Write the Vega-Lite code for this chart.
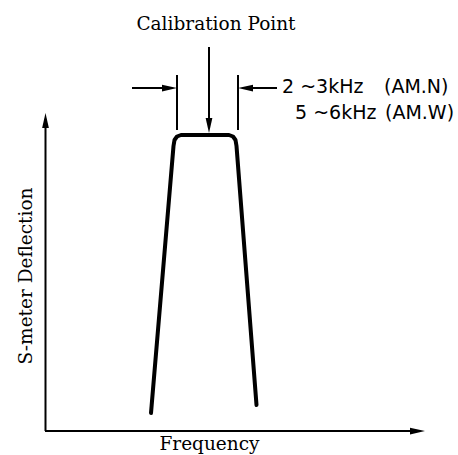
{
  "$schema": "https://vega.github.io/schema/vega-lite/v6.json",
  "width": 458,
  "height": 455,
  "autosize": "none",
  "padding": 0,
  "background": "white",
  "config": {"view": {"stroke": null}},
  "datasets": {
    "curve": [
      {"x": 151, "y": 413},
      {"x": 173.5, "y": 146},
      {"x": 174.5, "y": 140},
      {"x": 177, "y": 136.5},
      {"x": 181, "y": 135},
      {"x": 229, "y": 135},
      {"x": 233, "y": 136.5},
      {"x": 235.5, "y": 140},
      {"x": 236.5, "y": 146},
      {"x": 256.5, "y": 405}
    ],
    "rules": [
      {"name": "y axis", "x1": 45.5, "y1": 431, "x2": 45.5, "y2": 126},
      {"name": "x axis", "x1": 45, "y1": 431, "x2": 412, "y2": 431},
      {"name": "left marker", "x1": 177, "y1": 75, "x2": 177, "y2": 130},
      {"name": "right marker", "x1": 238, "y1": 75, "x2": 238, "y2": 130},
      {"name": "left arrow", "x1": 132, "y1": 88, "x2": 166, "y2": 88},
      {"name": "right arrow", "x1": 249, "y1": 88, "x2": 277, "y2": 88},
      {"name": "calibration arrow", "x1": 209, "y1": 47, "x2": 209, "y2": 120}
    ],
    "heads": [
      {"dir": "up", "x": 45.5, "y": 120.5},
      {"dir": "right", "x": 417.5, "y": 431},
      {"dir": "right", "x": 169.5, "y": 88},
      {"dir": "left", "x": 245.5, "y": 88},
      {"dir": "down", "x": 209, "y": 125.5}
    ],
    "serifText": [
      {"label": "Calibration Point", "x": 216, "y": 30},
      {"label": "Frequency", "x": 209.5, "y": 450}
    ],
    "rotText": [
      {"label": "S-meter Deflection", "x": 32, "y": 276}
    ],
    "sansText": [
      {"label": "2 ~3kHz", "x": 282, "y": 93},
      {"label": "(AM.N)", "x": 384, "y": 93},
      {"label": "5 ~6kHz", "x": 295, "y": 118.5},
      {"label": "(AM.W)", "x": 385, "y": 118.5}
    ]
  },
  "layer": [
    {
      "data": {"name": "curve"},
      "mark": {"type": "line", "color": "#000", "strokeWidth": 4, "strokeJoin": "round", "strokeCap": "round"},
      "encoding": {
        "x": {"field": "x", "type": "quantitative", "scale": {"domain": [0, 458], "nice": false, "zero": false}, "axis": null},
        "y": {"field": "y", "type": "quantitative", "scale": {"domain": [0, 455], "nice": false, "zero": false, "reverse": true}, "axis": null},
        "order": {"value": null}
      }
    },
    {
      "data": {"name": "rules"},
      "mark": {"type": "rule", "color": "#000", "strokeWidth": 2},
      "encoding": {
        "x": {"field": "x1", "type": "quantitative"},
        "y": {"field": "y1", "type": "quantitative"},
        "x2": {"field": "x2"},
        "y2": {"field": "y2"}
      }
    },
    {
      "data": {"name": "heads"},
      "mark": {"type": "point", "filled": true, "color": "#000", "opacity": 1, "size": 225},
      "encoding": {
        "x": {"field": "x", "type": "quantitative"},
        "y": {"field": "y", "type": "quantitative"},
        "shape": {
          "field": "dir",
          "type": "nominal",
          "legend": null,
          "scale": {
            "domain": ["up", "right", "down", "left"],
            "range": ["M0,-1L0.45,1L-0.45,1Z", "M1,0L-1,-0.45L-1,0.45Z", "M0,1L-0.45,-1L0.45,-1Z", "M-1,0L1,-0.45L1,0.45Z"]
          }
        }
      }
    },
    {
      "data": {"name": "serifText"},
      "mark": {"type": "text", "font": "DejaVu Serif", "fontSize": 18.5, "color": "#000", "align": "center", "baseline": "alphabetic"},
      "encoding": {
        "x": {"field": "x", "type": "quantitative"},
        "y": {"field": "y", "type": "quantitative"},
        "text": {"field": "label"}
      }
    },
    {
      "data": {"name": "rotText"},
      "mark": {"type": "text", "font": "DejaVu Serif", "fontSize": 18.5, "color": "#000", "align": "center", "baseline": "alphabetic", "angle": 270},
      "encoding": {
        "x": {"field": "x", "type": "quantitative"},
        "y": {"field": "y", "type": "quantitative"},
        "text": {"field": "label"}
      }
    },
    {
      "data": {"name": "sansText"},
      "mark": {"type": "text", "font": "DejaVu Sans", "fontSize": 19, "color": "#000", "align": "left", "baseline": "alphabetic"},
      "encoding": {
        "x": {"field": "x", "type": "quantitative"},
        "y": {"field": "y", "type": "quantitative"},
        "text": {"field": "label"}
      }
    }
  ]
}
